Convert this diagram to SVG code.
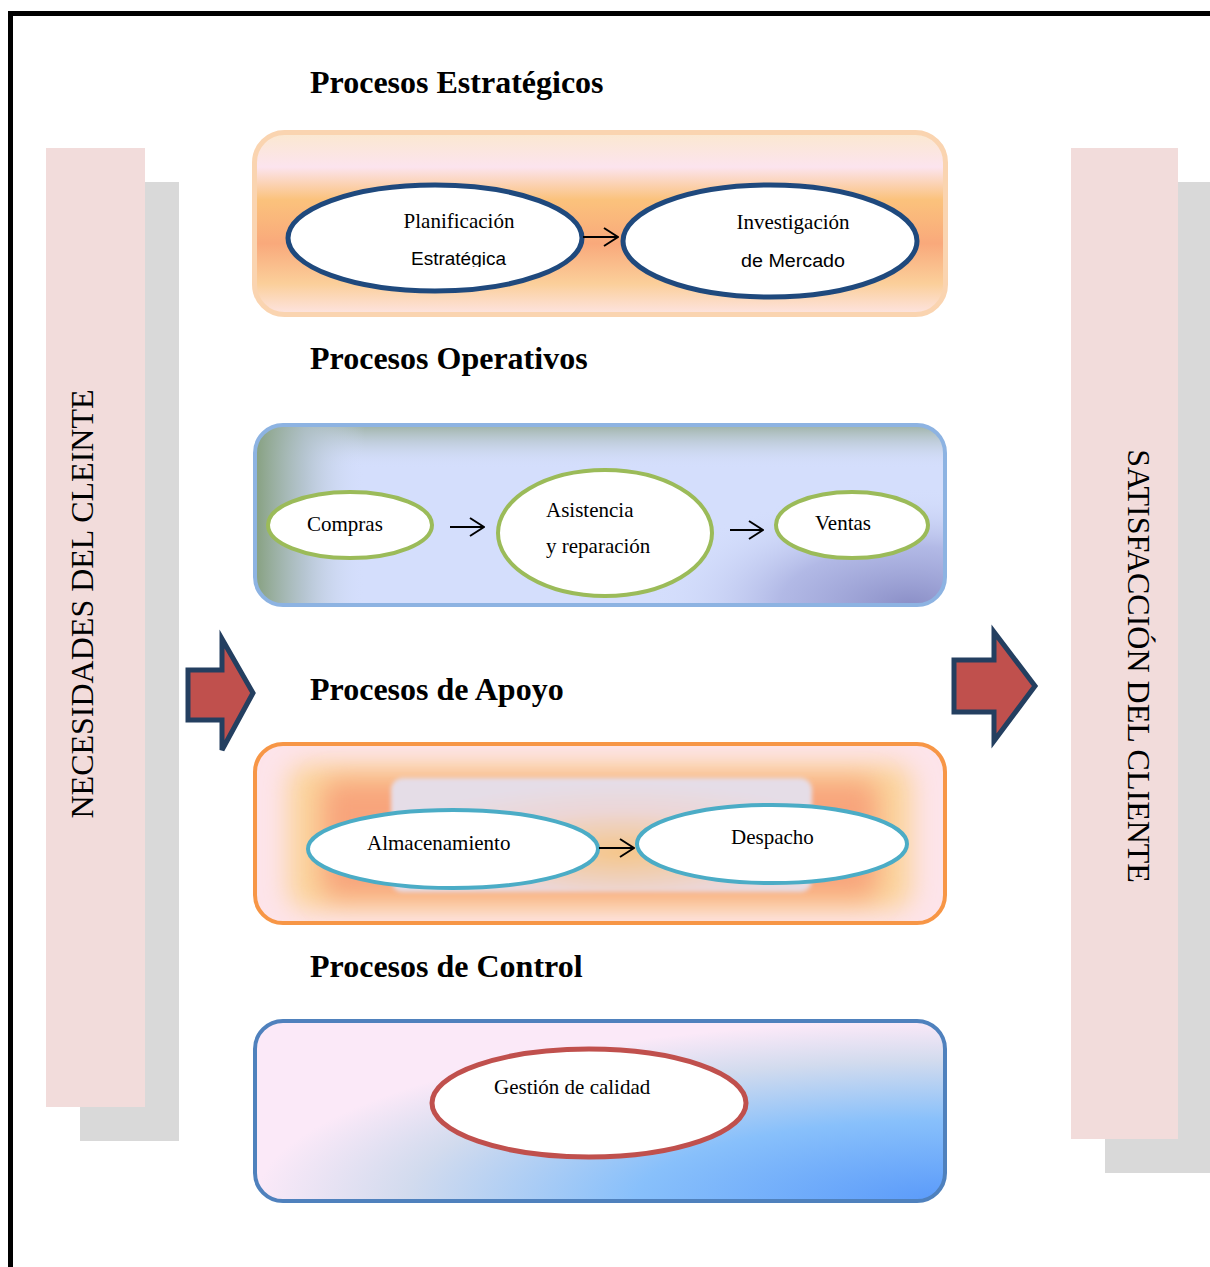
<svg xmlns="http://www.w3.org/2000/svg" width="1210" height="1267" viewBox="0 0 1210 1267">
  <style>
    .title { font-family: "Liberation Serif", "Times New Roman", serif; font-weight: bold; font-size: 32px; fill: #000; }
    .side { font-family: "Liberation Serif", "Times New Roman", serif; font-size: 32px; fill: #000; }
    .lbl { font-family: "Liberation Serif", "Times New Roman", serif; font-size: 21px; fill: #000; }
    .lbls { font-family: "Liberation Sans", Arial, sans-serif; font-size: 18px; fill: #000; }
    .conn { stroke: #000; stroke-width: 2; fill: none; }
    .bigarrow { fill: #c0504d; stroke: #243f60; stroke-width: 5; stroke-linejoin: miter; }
  </style>
  <defs>
    <marker id="chev" markerUnits="userSpaceOnUse" viewBox="0 0 16 20" markerWidth="16" markerHeight="20" refX="15" refY="10" orient="auto">
      <path d="M1,1 L15,10 L1,19" fill="none" stroke="#000" stroke-width="2"/>
    </marker>
    <linearGradient id="gStrat" x1="0" y1="0" x2="0" y2="1">
      <stop offset="0" stop-color="#fbe8cf"/>
      <stop offset="0.19" stop-color="#fce4ee"/>
      <stop offset="0.37" stop-color="#fbc27c"/>
      <stop offset="0.61" stop-color="#f9a97b"/>
      <stop offset="0.83" stop-color="#fbcf9a"/>
      <stop offset="1" stop-color="#fde4e2"/>
    </linearGradient>
    <linearGradient id="gOpLeft" gradientUnits="userSpaceOnUse" x1="255" y1="0" x2="365" y2="0">
      <stop offset="0" stop-color="#86a07f" stop-opacity="1"/>
      <stop offset="0.45" stop-color="#aebfc6" stop-opacity="0.8"/>
      <stop offset="1" stop-color="#d4defc" stop-opacity="0"/>
    </linearGradient>
    <linearGradient id="gOpTop" gradientUnits="userSpaceOnUse" x1="0" y1="425" x2="0" y2="468">
      <stop offset="0" stop-color="#98ad9b" stop-opacity="0.9"/>
      <stop offset="1" stop-color="#d4defc" stop-opacity="0"/>
    </linearGradient>
    <radialGradient id="gOpBR" gradientUnits="userSpaceOnUse" cx="910" cy="605" r="260" gradientTransform="translate(910 605) scale(1 0.45) translate(-910 -605)">
      <stop offset="0" stop-color="#8b8fc7" stop-opacity="1"/>
      <stop offset="0.5" stop-color="#a3a9dc" stop-opacity="0.7"/>
      <stop offset="1" stop-color="#d4defc" stop-opacity="0"/>
    </radialGradient>
    <radialGradient id="gCtrl" cx="1" cy="1" r="1">
      <stop offset="0" stop-color="#5a9afa"/>
      <stop offset="0.45" stop-color="#88c0fb"/>
      <stop offset="0.78" stop-color="#d2dbee"/>
      <stop offset="1" stop-color="#fbe9f8"/>
    </radialGradient>
    <radialGradient id="gInner" cx="0.55" cy="0.65" r="0.6">
      <stop offset="0" stop-color="#f5c68a"/>
      <stop offset="0.6" stop-color="#ecd6d6"/>
      <stop offset="1" stop-color="#e5dde7"/>
    </radialGradient>
    <filter id="blurA" x="-20%" y="-40%" width="140%" height="180%">
      <feGaussianBlur stdDeviation="13"/>
    </filter>
    <filter id="blur3" x="-5%" y="-10%" width="110%" height="120%">
      <feGaussianBlur stdDeviation="2"/>
    </filter>
    <clipPath id="clipOp"><rect x="255" y="425" width="690" height="180" rx="28"/></clipPath>
    <clipPath id="clipAp"><rect x="255" y="744" width="690" height="179" rx="28"/></clipPath>
    <clipPath id="clipEst"><rect x="380" y="240" width="160" height="27"/></clipPath>
  </defs>

  <rect x="0" y="0" width="1210" height="1267" fill="#ffffff"/>
  <!-- outer frame -->
  <path d="M10.5,1267 L10.5,13.5 L1210,13.5" fill="none" stroke="#000" stroke-width="5"/>

  <!-- left side bar -->
  <g id="necesidades">
    <rect x="80" y="182" width="99" height="959" fill="#d9d9d9"/>
    <rect x="46" y="148" width="99" height="959" fill="#f2dcdb"/>
    <text class="side" transform="translate(93,604) rotate(-90)" text-anchor="middle">NECESIDADES DEL CLEINTE</text>
  </g>

  <!-- right side bar -->
  <g id="satisfaccion">
    <rect x="1105" y="182" width="105" height="991" fill="#d9d9d9"/>
    <rect x="1071" y="148" width="107" height="991" fill="#f2dcdb"/>
    <text class="side" transform="translate(1128,666) rotate(90)" text-anchor="middle">SATISFACCIÓN DEL CLIENTE</text>
  </g>

  <!-- titles -->
  <text class="title" x="310" y="93">Procesos Estratégicos</text>
  <text class="title" x="310" y="369">Procesos Operativos</text>
  <text class="title" x="310" y="700">Procesos de Apoyo</text>
  <text class="title" x="310" y="977">Procesos de Control</text>

  <!-- Strategic box -->
  <g id="box-estrategicos">
    <rect x="254.5" y="132.5" width="691" height="182" rx="30" fill="url(#gStrat)" stroke="#fad4b0" stroke-width="5"/>
  </g>
  <g id="planificacion">
    <ellipse cx="435" cy="238" rx="147" ry="53" fill="#fff" stroke="#1f497d" stroke-width="5"/>
    <text class="lbl" x="459" y="228" text-anchor="middle">Planificación</text>
    <g clip-path="url(#clipEst)">
      <text class="lbls" x="411" y="265" textLength="95" lengthAdjust="spacingAndGlyphs">Estratégica</text>
    </g>
  </g>
  <g id="investigacion">
    <ellipse cx="770" cy="241" rx="147" ry="56" fill="#fff" stroke="#1f497d" stroke-width="5"/>
    <text class="lbl" x="793" y="229" text-anchor="middle">Investigación</text>
    <text class="lbls" x="741" y="267" textLength="104" lengthAdjust="spacingAndGlyphs">de Mercado</text>
  </g>

  <!-- Operative box -->
  <g id="box-operativos">
    <g clip-path="url(#clipOp)">
      <rect x="253" y="423" width="694" height="184" fill="#d4defc"/>
      <rect x="253" y="423" width="694" height="184" fill="url(#gOpBR)"/>
      <rect x="253" y="423" width="694" height="184" fill="url(#gOpTop)"/>
      <rect x="253" y="423" width="694" height="184" fill="url(#gOpLeft)"/>
    </g>
    <rect x="255" y="425" width="690" height="180" rx="28" fill="none" stroke="#8db3e2" stroke-width="4"/>
  </g>
  <g id="compras">
    <ellipse cx="350" cy="525" rx="82" ry="33" fill="#fff" stroke="#9bbb59" stroke-width="4"/>
    <text class="lbl" x="307" y="531">Compras</text>
  </g>
  <g id="asistencia">
    <ellipse cx="605" cy="533" rx="107" ry="63" fill="#fff" stroke="#9bbb59" stroke-width="4"/>
    <text class="lbl" x="546" y="517">Asistencia</text>
    <text class="lbl" x="546" y="553">y reparación</text>
  </g>
  <g id="ventas">
    <ellipse cx="852" cy="525" rx="76" ry="33" fill="#fff" stroke="#9bbb59" stroke-width="4"/>
    <text class="lbl" x="815" y="530">Ventas</text>
  </g>

  <!-- Support box -->
  <g id="box-apoyo">
    <g clip-path="url(#clipAp)">
      <rect x="253" y="742" width="694" height="184" fill="#fde4ea"/>
      <rect x="288" y="764" width="624" height="146" rx="20" fill="#fbd49b" filter="url(#blurA)"/>
      <rect x="322" y="780" width="556" height="118" rx="14" fill="#f8a47b" filter="url(#blurA)"/>
      <rect x="391" y="778" width="421" height="114" rx="12" fill="url(#gInner)" filter="url(#blur3)"/>
    </g>
    <rect x="255" y="744" width="690" height="179" rx="28" fill="none" stroke="#f79646" stroke-width="4"/>
  </g>
  <g id="almacenamiento">
    <ellipse cx="453" cy="849" rx="145" ry="39" fill="#fff" stroke="#4bacc6" stroke-width="4"/>
    <text class="lbl" x="367" y="850">Almacenamiento</text>
  </g>
  <g id="despacho">
    <ellipse cx="772" cy="844" rx="135" ry="39" fill="#fff" stroke="#4bacc6" stroke-width="4"/>
    <text class="lbl" x="731" y="844">Despacho</text>
  </g>

  <!-- Control box -->
  <g id="box-control">
    <rect x="255" y="1021" width="690" height="180" rx="28" fill="url(#gCtrl)" stroke="#4f81bd" stroke-width="4"/>
  </g>
  <g id="gestion">
    <ellipse cx="589" cy="1103" rx="157" ry="54" fill="#fff" stroke="#c0504d" stroke-width="5"/>
    <text class="lbl" x="494" y="1094">Gestión de calidad</text>
  </g>

  <!-- big arrows -->
  <g id="arrow-left">
    <polygon class="bigarrow" points="188,670 222,670 222,639 253,693 222,750 222,720 188,720"/>
  </g>
  <g id="arrow-right">
    <polygon class="bigarrow" points="954,660 994,660 994,632 1035,686 994,741 994,712 954,712"/>
  </g>

  <!-- connectors -->
  <g id="connectors">
    <line class="conn" x1="583" y1="237" x2="618" y2="237" marker-end="url(#chev)"/>
    <line class="conn" x1="450" y1="527" x2="484" y2="527" marker-end="url(#chev)"/>
    <line class="conn" x1="730" y1="530" x2="763" y2="530" marker-end="url(#chev)"/>
    <line class="conn" x1="599" y1="848" x2="634" y2="848" marker-end="url(#chev)"/>
  </g>
</svg>
